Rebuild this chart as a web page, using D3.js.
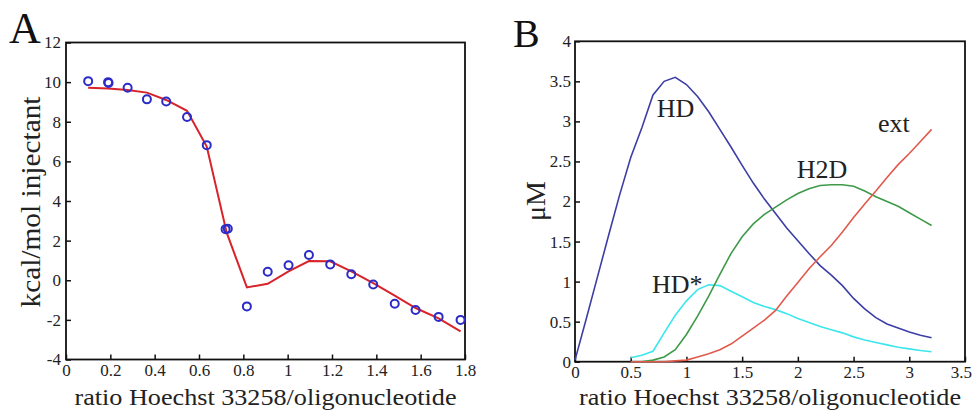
<!DOCTYPE html>
<html>
<head>
<meta charset="utf-8">
<script src="https://cdn.jsdelivr.net/npm/d3@7"></script>
<style>
  body { margin: 0; background: #fff; }
  svg { display: block; font-family: "Liberation Serif", "DejaVu Serif", serif; }
</style>
</head>
<body>
<div id="chart"></div>
<script>
// panel A: ITC data (circles) and fit (line)
const A_X = [0.10, 0.19, 0.192, 0.278, 0.365, 0.452, 0.546, 0.635, 0.72, 0.73, 0.816, 0.91, 1.004, 1.096, 1.192, 1.287, 1.386, 1.483, 1.577, 1.681, 1.78];
const A_OBS = [10.05, 10.0, 9.96, 9.72, 9.13, 9.02, 8.24, 6.82, 2.58, 2.6, -1.32, 0.43, 0.76, 1.27, 0.8, 0.3, -0.21, -1.19, -1.5, -1.85, -2.0];
const A_FIT_X = [0.10, 0.19, 0.278, 0.365, 0.452, 0.546, 0.635, 0.725, 0.816, 0.91, 1.004, 1.096, 1.192, 1.287, 1.386, 1.483, 1.577, 1.681, 1.78];
const A_FIT = [9.72, 9.68, 9.6, 9.47, 9.1, 8.55, 6.75, 2.4, -0.36, -0.18, 0.45, 0.97, 0.96, 0.45, -0.15, -0.78, -1.4, -1.92, -2.58];
const A_XTICKS = [0, 0.2, 0.4, 0.6, 0.8, 1, 1.2, 1.4, 1.6, 1.8];
const A_YTICKS = [-4, -2, 0, 2, 4, 6, 8, 10, 12];

// panel B: species concentrations
const B_X = [0, 0.1, 0.2, 0.3, 0.4, 0.5, 0.6, 0.7, 0.8, 0.9, 1.0, 1.1, 1.2, 1.3, 1.4, 1.5, 1.6, 1.7, 1.8, 1.9, 2.0, 2.1, 2.2, 2.3, 2.4, 2.5, 2.6, 2.7, 2.8, 2.9, 3.0, 3.1, 3.2];
const HD   = [0.02, 0.53, 1.05, 1.57, 2.08, 2.55, 2.92, 3.33, 3.5, 3.55, 3.46, 3.31, 3.12, 2.9, 2.68, 2.45, 2.23, 2.03, 1.85, 1.67, 1.51, 1.35, 1.2, 1.08, 0.95, 0.79, 0.66, 0.55, 0.47, 0.42, 0.37, 0.33, 0.3];
const HDS  = [null, null, null, null, null, 0.05, 0.08, 0.13, 0.36, 0.58, 0.76, 0.9, 0.96, 0.95, 0.88, 0.81, 0.74, 0.69, 0.65, 0.6, 0.54, 0.49, 0.44, 0.4, 0.36, 0.31, 0.27, 0.24, 0.21, 0.18, 0.16, 0.14, 0.125];
const H2D  = [null, null, null, null, null, null, 0.0, 0.02, 0.06, 0.15, 0.34, 0.57, 0.82, 1.09, 1.35, 1.56, 1.72, 1.84, 1.93, 2.02, 2.1, 2.16, 2.2, 2.21, 2.21, 2.19, 2.13, 2.06, 2.0, 1.94, 1.86, 1.78, 1.7];
const EXT  = [null, null, null, null, null, 0.0, 0.0, 0.0, 0.0, 0.01, 0.02, 0.06, 0.1, 0.15, 0.22, 0.32, 0.42, 0.52, 0.64, 0.82, 0.99, 1.16, 1.31, 1.45, 1.62, 1.8, 1.97, 2.13, 2.3, 2.46, 2.6, 2.75, 2.9];
const B_NAMES = ['HD', 'HD*', 'H2D', 'ext'];
const B_LABEL_X = [0.733, 0.69, 1.99, 2.72];
const B_LABEL_Y = [3.06, 0.854, 2.29, 2.87];
const B_XTICKS = [0, 0.5, 1, 1.5, 2, 2.5, 3, 3.5];
const B_YTICKS = [0, 0.5, 1, 1.5, 2, 2.5, 3, 3.5, 4];

const FONT = '"Liberation Serif", "DejaVu Serif", serif';
const width = 974, height = 412;
const svg = d3.select('#chart').append('svg')
  .attr('width', width)
  .attr('height', height);
svg.append('rect').attr('width', width).attr('height', height).attr('fill', '#fff');

// 共通: 枠と軸 ----------------------------------------------------------
const styleAxis = s => {
  s.attr('font-family', FONT).attr('font-size', 17);
  s.select('.domain').remove();
  s.selectAll('text').attr('font-family', FONT).attr('font-size', '17px').attr('fill', '#222');
  s.selectAll('line').attr('stroke', '#111').attr('stroke-width', 1.5);
};
const drawFrame = (g, x, y, xTicks, yTicks, xPad, yPad) => {
  const xAxis = g.append('g')
    .attr('transform', 'translate(0,' + y.range()[0] + ')')
    .call(d3.axisBottom(x).tickValues(xTicks).tickFormat(d => String(d)).tickSize(-5).tickPadding(xPad))
    .call(styleAxis);
  // 右端のラベルが画面外に出ないように寄せる
  const maxX = width - 2;
  xAxis.selectAll('.tick text').each(function () {
    const b = this.getBBox();
    const t = d3.select(this.parentNode).attr('transform');
    const tx = +t.match(/translate\(([-\d.]+)/)[1];
    if (tx + b.x + b.width > maxX) d3.select(this).attr('x', maxX - tx - b.width / 2);
  });
  g.append('g')
    .attr('transform', 'translate(' + x.range()[0] + ',0)')
    .call(d3.axisLeft(y).tickValues(yTicks).tickFormat(d => String(d)).tickSize(-5).tickPadding(yPad))
    .call(styleAxis);
  g.append('rect')
    .attr('x', x.range()[0]).attr('y', y.range()[1])
    .attr('width', x.range()[1] - x.range()[0])
    .attr('height', y.range()[0] - y.range()[1])
    .attr('fill', 'none').attr('stroke', '#111').attr('stroke-width', 1.8);
};

const xTitle = (g, x, text) => {
  g.append('text')
    .attr('x', (x.range()[0] + x.range()[1]) / 2)
    .attr('y', 405)
    .attr('text-anchor', 'middle')
    .attr('font-size', '24px')
    .attr('fill', '#222')
    .attr('textLength', 382)
    .attr('lengthAdjust', 'spacingAndGlyphs')
    .text(text);
};

// A -----------------------------------------------------------------------
const gA = svg.append('g');
const xA = d3.scaleLinear().domain([0, 1.8]).range([66, 465]);
const yA = d3.scaleLinear().domain([-4, 12]).range([359.5, 42.5]);
drawFrame(gA, xA, yA, A_XTICKS, A_YTICKS, 4, 5);

gA.append('path')
  .datum(A_FIT_X.map((d, i) => [d, A_FIT[i]]))
  .attr('fill', 'none')
  .attr('stroke', '#d8232a')
  .attr('stroke-width', 2)
  .attr('d', d3.line().x(d => xA(d[0])).y(d => yA(d[1])));

gA.append('g')
  .selectAll('circle')
  .data(A_X.map((d, i) => [d, A_OBS[i]]))
  .enter()
  .append('circle')
  .attr('cx', d => xA(d[0]))
  .attr('cy', d => yA(d[1]))
  .attr('r', 4)
  .attr('fill', 'none')
  .attr('stroke', '#2b2bc8')
  .attr('stroke-width', 2);

xTitle(gA, xA, 'ratio Hoechst 33258/oligonucleotide');
gA.append('text')
  .attr('transform', 'translate(40,' + 202 + ') rotate(-90)')
  .attr('text-anchor', 'middle')
  .attr('font-size', '28px')
  .attr('fill', '#222')
  .attr('textLength', 211)
  .attr('lengthAdjust', 'spacingAndGlyphs')
  .text('kcal/mol injectant');
gA.append('text').attr('x', 9).attr('y', 43).attr('font-size', '44px').attr('fill', '#111').text('A');

// B -----------------------------------------------------------------------
const gB = svg.append('g');
const xB = d3.scaleLinear().domain([0, 3.5]).range([575, 965]);
const yB = d3.scaleLinear().domain([0, 4]).range([361.7, 41.3]);
drawFrame(gB, xB, yB, B_XTICKS, B_YTICKS, 4, 4);

const series = [
  { name: 'HD', values: HD, color: '#3d3da6' },
  { name: 'HD*', values: HDS, color: '#3ce6ec' },
  { name: 'H2D', values: H2D, color: '#3e9a48' },
  { name: 'ext', values: EXT, color: '#e05a4c' }
];
const lineB = d3.line()
  .defined(d => d[1] !== null)
  .x(d => xB(d[0]))
  .y(d => yB(d[1]));
gB.append('g')
  .selectAll('path')
  .data(series)
  .enter()
  .append('path')
  .attr('fill', 'none')
  .attr('stroke', d => d.color)
  .attr('stroke-width', 1.6)
  .attr('d', d => lineB(B_X.map((x, i) => [x, d.values[i]])));

gB.append('g')
  .selectAll('text')
  .data(B_NAMES)
  .enter()
  .append('text')
  .attr('x', (d, i) => xB(B_LABEL_X[i]))
  .attr('y', (d, i) => yB(B_LABEL_Y[i]))
  .attr('font-size', '26px')
  .attr('fill', '#222')
  .text(d => d);

xTitle(gB, xB, 'ratio Hoechst 33258/oligonucleotide');
gB.append('text')
  .attr('transform', 'translate(545,' + 201 + ') rotate(-90)')
  .attr('text-anchor', 'middle')
  .attr('font-size', '28px')
  .attr('fill', '#222')
  .text('μM');
gB.append('text').attr('x', 513).attr('y', 47).attr('font-size', '40px').attr('fill', '#111').text('B');
</script>
</body>
</html>
